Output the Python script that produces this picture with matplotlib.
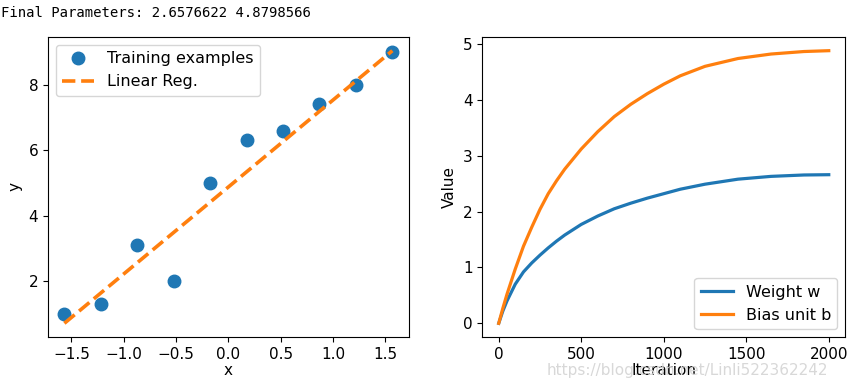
import matplotlib.pyplot as plt

# standardized training inputs and targets
x_train = [-1.5667, -1.2185, -0.8704, -0.5222, -0.1741, 0.1741, 0.5222, 0.8704, 1.2185, 1.5667]
y_train = [1.0, 1.3, 3.1, 2.0, 5.0, 6.3, 6.6, 7.4, 8.0, 9.0]
w_final = 2.6576622
b_final = 4.8798566

# parameter history
iters = [0, 25, 50, 100, 150, 200, 250, 300, 350, 400, 500, 600, 700, 800, 900, 1000,
         1100, 1250, 1450, 1650, 1850, 2000]
w_hist = [0.0, 0.22, 0.40, 0.70, 0.92, 1.08, 1.22, 1.35, 1.47, 1.58, 1.77, 1.92, 2.05, 2.15, 2.24, 2.32,
          2.40, 2.49, 2.58, 2.63, 2.655, 2.66]
b_hist = [0.0, 0.27, 0.52, 0.97, 1.38, 1.72, 2.04, 2.32, 2.55, 2.76, 3.12, 3.43, 3.70, 3.92, 4.11, 4.28,
          4.43, 4.60, 4.74, 4.82, 4.865, 4.88]

plt.rcParams['font.size'] = 11
fig = plt.figure(figsize=(8.49, 3.82), dpi=100)

fig.text(0.001, 0.985, 'Final Parameters: 2.6576622 4.8798566', family='DejaVu Sans Mono',
         fontsize=10, va='top', ha='left')

ax1 = fig.add_axes([0.0565, 0.118, 0.425, 0.785])
ax1.plot(x_train, y_train, 'o', markersize=9, label='Training examples')
line_y = [w_final * v + b_final for v in x_train]
ax1.plot(x_train, line_y, '--', lw=2.6, label='Linear Reg.')
ax1.set_xlabel('x', labelpad=1)
ax1.set_ylabel('y')
ax1.set_yticks([2, 4, 6, 8])
ax1.legend(loc='upper left', fontsize=11.5)

ax2 = fig.add_axes([0.568, 0.118, 0.4276, 0.785])
ax2.plot(iters, w_hist, lw=2.3, label='Weight w')
ax2.plot(iters, b_hist, lw=2.3, label='Bias unit b')
ax2.set_xlabel('Iteration', labelpad=1)
ax2.set_ylabel('Value')
ax2.legend(loc='lower right', fontsize=11.5)

fig.text(0.975, 0.03, 'https://blog.csdn.net/Linli522362242', color='#d8d8d8',
         fontsize=11, ha='right', va='center')

fig.savefig('out.png', dpi=100)
